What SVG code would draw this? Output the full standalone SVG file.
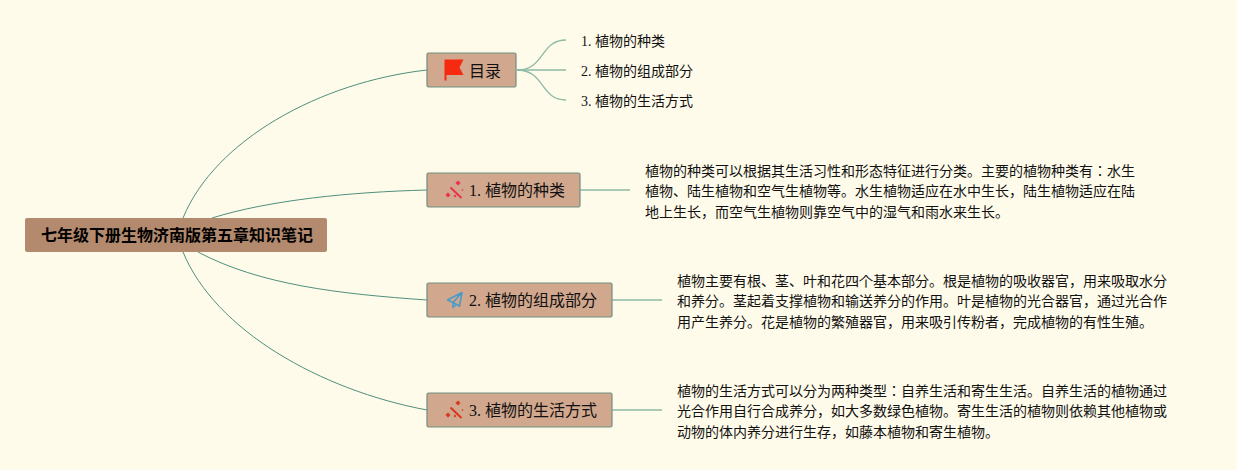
<svg xmlns="http://www.w3.org/2000/svg" width="1237" height="470" viewBox="0 0 1237 470">
<style>
text{font-family:"Liberation Serif","Noto Sans CJK JP",serif;fill:#111}
.root{fill:#b48a6e}
.box{fill:#d1a78d;stroke:#6f9180;stroke-width:1.2}
.t{font-size:16px}
.s{font-size:14px}
.b{font-size:14px}
.rt{font-size:16px;font-weight:bold;fill:#000}
.l{fill:none;stroke:#4f8f7d;stroke-width:1}
.l2{fill:none;stroke:#8cbaa6;stroke-width:1.300}
</style>
<rect width="1237" height="470" fill="#fffbea"/>
<g id="connectors">
<path class="l" d="M183 218C215 140 320 82 427 70"/>
<path class="l" d="M212 218C270 200 350 192 427 190"/>
<path class="l" d="M198 252C260 285 340 294 427 300"/>
<path class="l" d="M183 252C215 330 320 390 427 410"/>
<path class="l2" d="M517 70C545 70 540 40 566 40"/>
<path class="l2" d="M517 70H566"/>
<path class="l2" d="M517 70C545 70 540 100 566 100"/>
<path class="l2" d="M580 190H630"/>
<path class="l2" d="M612 300H662"/>
<path class="l2" d="M612 410H662"/>
</g>
<g id="root">
<rect class="root" x="25" y="218" width="302" height="34" rx="2"/>
<text class="rt" x="41" y="241">七年级下册生物济南版第五章知识笔记</text>
</g>
<g id="node-toc">
<rect class="box" x="427" y="53" width="89" height="34" rx="1.5"/>
<path d="M444.500 59.500H463.500L459.500 67.500L463.500 75H446.500V80.500H444.500Z" fill="#f52a10"/>
<text class="t" x="469" y="77">目录</text>
</g>
<g id="leaf-toc-1"><text class="s" x="581" y="46">1. 植物的种类</text></g>
<g id="leaf-toc-2"><text class="s" x="581" y="76">2. 植物的组成部分</text></g>
<g id="leaf-toc-3"><text class="s" x="581" y="106">3. 植物的生活方式</text></g>
<g id="node-1">
<rect class="box" x="427" y="173" width="153" height="34" rx="1.5"/>
<g fill="#ec2f55">
<path d="M450.500 187.500L461.500 198" stroke="#ec2f55" stroke-width="2"/>
<path d="M458 180.500L460.500 183L458 185.500L455.500 183Z"/>
<path d="M448 192.500L450.500 195L448 197.500L445.500 195Z"/>
<path d="M455 194.500L456.500 196L455 197.500L453.500 196Z"/>
<path d="M462.500 189L463.500 190L462.500 191L461.500 190Z"/>
</g>
<text class="t" x="469" y="196">1. 植物的种类</text>
</g>
<g id="text-1">
<text class="b" x="645" y="176">植物的种类可以根据其生活习性和形态特征进行分类。主要的植物种类有：水生</text>
<text class="b" x="645" y="196">植物、陆生植物和空气生植物等。水生植物适应在水中生长，陆生植物适应在陆</text>
<text class="b" x="645" y="217">地上生长，而空气生植物则靠空气中的湿气和雨水来生长。</text>
</g>
<g id="node-2">
<rect class="box" x="427" y="283" width="185" height="34" rx="1.5"/>
<path d="M462 292.500L447.500 300L453 302.500L462 292.500L459.500 306L453 302.500V307.500L456 304.500" fill="none" stroke="#4a9cc8" stroke-width="1.600" stroke-linejoin="round"/>
<text class="t" x="469" y="306">2. 植物的组成部分</text>
</g>
<g id="text-2">
<text class="b" x="677" y="286">植物主要有根、茎、叶和花四个基本部分。根是植物的吸收器官，用来吸取水分</text>
<text class="b" x="677" y="306">和养分。茎起着支撑植物和输送养分的作用。叶是植物的光合器官，通过光合作</text>
<text class="b" x="677" y="327">用产生养分。花是植物的繁殖器官，用来吸引传粉者，完成植物的有性生殖。</text>
</g>
<g id="node-3">
<rect class="box" x="427" y="393" width="185" height="34" rx="1.5"/>
<g fill="#d9371f">
<path d="M450.500 407.500L461.500 418" stroke="#d9371f" stroke-width="2"/>
<path d="M458 400.500L460.500 403L458 405.500L455.500 403Z"/>
<path d="M448 412.500L450.500 415L448 417.500L445.500 415Z"/>
<path d="M455 414.500L456.500 416L455 417.500L453.500 416Z"/>
<path d="M462.500 409L463.500 410L462.500 411L461.500 410Z"/>
</g>
<text class="t" x="469" y="416">3. 植物的生活方式</text>
</g>
<g id="text-3">
<text class="b" x="677" y="396">植物的生活方式可以分为两种类型：自养生活和寄生生活。自养生活的植物通过</text>
<text class="b" x="677" y="416">光合作用自行合成养分，如大多数绿色植物。寄生生活的植物则依赖其他植物或</text>
<text class="b" x="677" y="437">动物的体内养分进行生存，如藤本植物和寄生植物。</text>
</g>
</svg>
